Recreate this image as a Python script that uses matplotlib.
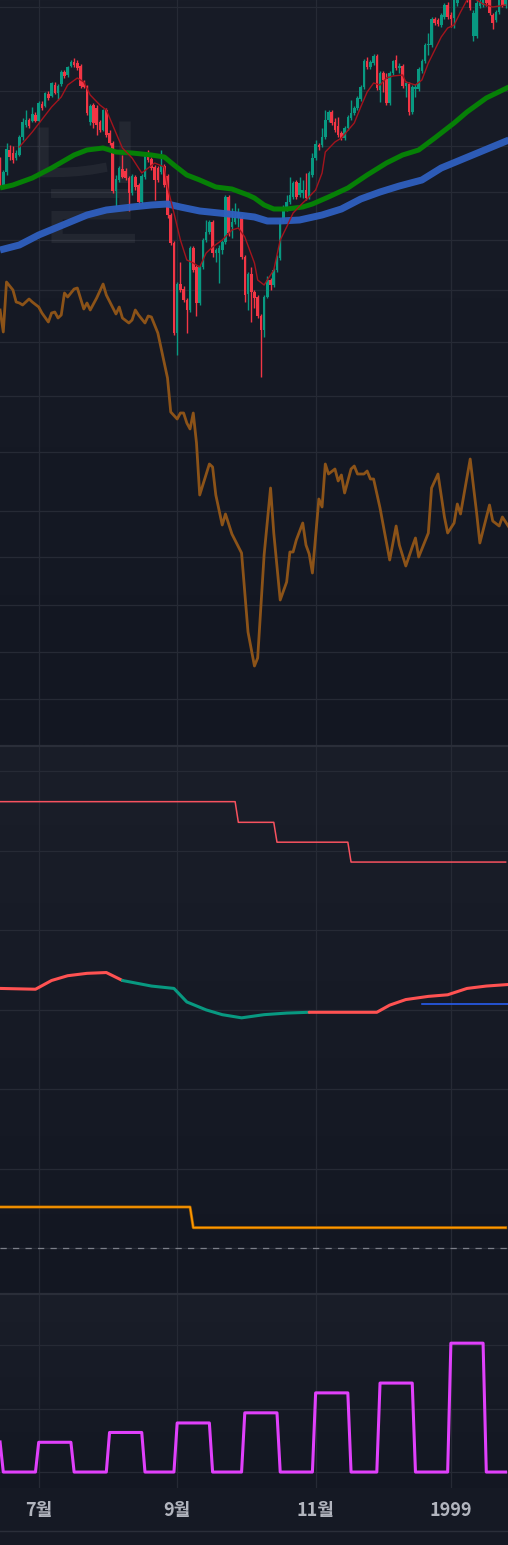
import numpy as np
import matplotlib
matplotlib.use("Agg")
import matplotlib.pyplot as plt
from matplotlib.colors import LinearSegmentedColormap
from matplotlib.lines import Line2D

plt.rcParams['font.family'] = ['Noto Sans CJK KR', 'DejaVu Sans']

# ---- daily bars, mid June 1998 .. late January 1999 (bar index 0..157) ----
opens = [1140, 1115, 1128, 1150, 1147, 1142, 1145, 1163, 1175, 1180,
         1179, 1185, 1179, 1196, 1194, 1206, 1204, 1215, 1207, 1216,
         1228, 1225, 1234, 1238, 1237, 1234, 1218, 1214, 1178, 1195,
         1192, 1178, 1170, 1190, 1167, 1157, 1109, 1120, 1131, 1129,
         1122, 1107, 1123, 1115, 1098, 1123, 1143, 1141, 1133, 1132,
         1128, 1134, 1124, 1085, 1057, 967, 1016, 1011, 1000, 990,
         1052, 1033, 997, 1033, 1060, 1068, 1078, 1047, 1047, 1050,
         1058, 1103, 1073, 1078, 1082, 1083, 1043, 1006, 1026, 1008,
         1003, 984, 970, 1003, 1020, 1015, 1030, 1042, 1080, 1091,
         1098, 1103, 1118, 1105, 1107, 1110, 1103, 1125, 1142, 1155,
         1155, 1163, 1180, 1188, 1178, 1174, 1167, 1162, 1172, 1182,
         1187, 1192, 1201, 1213, 1239, 1233, 1237, 1244, 1210, 1227,
         1221, 1197, 1227, 1240, 1232, 1234, 1214, 1216, 1188, 1211,
         1211, 1229, 1239, 1255, 1255, 1281, 1280, 1275, 1283, 1295,
         1285, 1282, 1297, 1305, 1310, 1308, 1302, 1264, 1264, 1294,
         1295, 1303, 1300, 1285, 1280, 1288, 1302, 1294]
highs = [1143, 1130, 1157, 1155, 1154, 1150, 1165, 1182, 1190, 1182,
         1193, 1188, 1199, 1199, 1208, 1209, 1218, 1218, 1216, 1230,
         1230, 1234, 1240, 1242, 1240, 1236, 1220, 1215, 1196, 1197,
         1195, 1180, 1191, 1192, 1170, 1159, 1125, 1134, 1145, 1132,
         1124, 1126, 1125, 1117, 1126, 1147, 1150, 1143, 1135, 1134,
         1150, 1136, 1126, 1087, 1059, 1018, 1038, 1014, 1002, 1054,
         1054, 1035, 1035, 1062, 1080, 1080, 1080, 1052, 1055, 1060,
         1105, 1105, 1092, 1097, 1092, 1085, 1045, 1028, 1033, 1010,
         1005, 986, 1005, 1024, 1022, 1032, 1045, 1082, 1095, 1105,
         1123, 1119, 1120, 1123, 1120, 1127, 1129, 1147, 1160, 1157,
         1172, 1190, 1190, 1190, 1182, 1183, 1169, 1174, 1185, 1200,
         1194, 1204, 1215, 1241, 1243, 1240, 1246, 1246, 1229, 1229,
         1227, 1229, 1240, 1245, 1237, 1236, 1219, 1218, 1215, 1216,
         1233, 1241, 1257, 1267, 1283, 1283, 1282, 1287, 1297, 1298,
         1288, 1305, 1308, 1318, 1315, 1314, 1306, 1290, 1300, 1303,
         1306, 1308, 1304, 1287, 1290, 1304, 1306, 1304]
lows = [1113, 1112, 1125, 1140, 1137, 1140, 1144, 1160, 1173, 1172,
        1178, 1178, 1178, 1190, 1193, 1200, 1203, 1206, 1200, 1214,
        1222, 1223, 1233, 1233, 1230, 1212, 1212, 1185, 1175, 1172,
        1165, 1168, 1169, 1163, 1155, 1107, 1093, 1118, 1122, 1120,
        1089, 1105, 1110, 1095, 1096, 1121, 1138, 1130, 1100, 1118,
        1126, 1113, 1082, 1055, 965, 945, 1008, 998, 967, 988,
        1028, 984, 995, 1031, 1058, 1066, 1043, 1038, 1017, 1046,
        1056, 1064, 1062, 1076, 1073, 1041, 998, 990, 978, 992,
        982, 923, 963, 1002, 1010, 1013, 1028, 1040, 1078, 1089,
        1096, 1101, 1101, 1103, 1102, 1100, 1101, 1123, 1140, 1150,
        1153, 1161, 1178, 1175, 1168, 1163, 1160, 1160, 1170, 1180,
        1185, 1190, 1199, 1211, 1231, 1231, 1235, 1210, 1198, 1208,
        1195, 1195, 1225, 1230, 1227, 1212, 1203, 1185, 1186, 1203,
        1209, 1227, 1237, 1245, 1253, 1275, 1274, 1273, 1281, 1281,
        1273, 1272, 1294, 1302, 1303, 1298, 1290, 1259, 1262, 1292,
        1293, 1294, 1285, 1271, 1278, 1286, 1293, 1292]
closes = [1115, 1128, 1151, 1143, 1140, 1147, 1163, 1178, 1180, 1174,
          1186, 1179, 1197, 1192, 1207, 1202, 1217, 1207, 1214, 1228,
          1224, 1233, 1238, 1235, 1232, 1214, 1213, 1187, 1194, 1177,
          1175, 1170, 1190, 1165, 1157, 1109, 1121, 1132, 1123, 1122,
          1107, 1124, 1113, 1098, 1124, 1144, 1140, 1132, 1120, 1120,
          1134, 1115, 1085, 1057, 967, 1016, 1010, 1000, 990, 1052,
          1030, 997, 1033, 1060, 1068, 1078, 1047, 1050, 1052, 1058,
          1103, 1067, 1078, 1083, 1088, 1043, 1005, 1026, 1008, 1002,
          984, 970, 1003, 1020, 1015, 1030, 1042, 1080, 1092, 1098,
          1105, 1117, 1103, 1117, 1110, 1102, 1127, 1142, 1156, 1153,
          1163, 1180, 1188, 1177, 1170, 1165, 1162, 1172, 1183, 1187,
          1192, 1202, 1213, 1239, 1233, 1238, 1244, 1212, 1227, 1220,
          1197, 1227, 1239, 1232, 1234, 1214, 1217, 1188, 1213, 1213,
          1231, 1239, 1255, 1256, 1281, 1277, 1276, 1285, 1295, 1283,
          1281, 1302, 1305, 1312, 1306, 1302, 1292, 1287, 1297, 1298,
          1302, 1297, 1287, 1277, 1288, 1300, 1295, 1301]

# moving averages (bar index, level)
fast_ma_bars = [6, 10, 16, 19, 21, 24, 26, 28, 31, 33, 36, 38, 41, 44, 46, 48, 51, 52, 54, 56,
                58, 60, 62, 64, 66, 69, 72, 74, 76, 79, 80, 82, 85, 87, 89, 91, 94, 95, 98, 100,
                101, 104, 106, 110, 112, 114, 116, 118, 120, 122, 125, 126, 129, 131, 133, 135,
                137, 139, 141, 143, 145, 147, 150, 153, 157]
fast_ma_vals = [1153, 1168, 1193, 1203, 1215, 1222, 1218, 1205, 1195, 1190, 1167, 1152, 1142, 1127,
                1132, 1137, 1133, 1113, 1087, 1060, 1040, 1037, 1033, 1047, 1053, 1060, 1070, 1072,
                1063, 1037, 1020, 1015, 1030, 1060, 1073, 1087, 1097, 1100, 1110, 1127, 1148, 1158,
                1162, 1177, 1193, 1208, 1217, 1215, 1222, 1224, 1225, 1218, 1215, 1220, 1237, 1250,
                1263, 1272, 1275, 1288, 1300, 1302, 1296, 1293, 1295]
mid_ma_bars = [0, 4, 10, 16, 23, 27, 32, 36, 41, 47, 51, 54, 58, 62, 67, 72, 77, 79, 82, 85,
               89, 94, 97, 102, 108, 114, 120, 125, 130, 135, 141, 145, 151, 158]
mid_ma_vals = [1112, 1115, 1122, 1132, 1145, 1150, 1152, 1148, 1147, 1145, 1143, 1135, 1125, 1120,
               1113, 1111, 1105, 1102, 1095, 1091, 1091, 1093, 1096, 1103, 1112, 1125, 1137, 1145,
               1150, 1162, 1177, 1188, 1202, 1213]
slow_ma_bars = [0, 6, 12, 21, 27, 33, 41, 47, 52, 56, 62, 68, 74, 79, 83, 87, 93, 100, 106, 112,
                118, 124, 131, 137, 143, 149, 158]
slow_ma_vals = [1050, 1055, 1065, 1077, 1085, 1090, 1093, 1095, 1096, 1093, 1089, 1087, 1085, 1083,
                1079, 1079, 1080, 1085, 1091, 1101, 1108, 1114, 1120, 1132, 1140, 1148, 1160]

# overlay oscillator (own scale) in the price pane
osc_bars = [0, 1, 2, 4, 5, 6, 7, 9, 10, 12, 13, 15, 16, 17, 18, 19, 20, 21, 23, 24, 26, 27, 28, 30,
            32, 33, 36, 37, 38, 40, 41, 42, 43, 45, 46, 47, 49, 51, 52, 53, 55, 56, 57, 58, 59, 60,
            61, 62, 65, 66, 67, 69, 70, 72, 75, 77, 79, 80, 82, 84, 85, 87, 89, 90, 91, 92, 94, 95,
            96, 97, 99, 100, 101, 102, 104, 105, 106, 107, 109, 110, 111, 113, 114, 115, 116, 118,
            121, 123, 124, 126, 128, 129, 130, 133, 134, 136, 138, 139, 141, 142, 143, 146, 148,
            149, 152, 153, 155, 156, 158]
osc_vals = [435, 413, 463, 455, 443, 442, 440, 446, 443, 438, 432, 423, 432, 433, 427, 430, 452, 448,
            456, 457, 436, 442, 435, 447, 461, 450, 431, 438, 427, 422, 425, 435, 430, 422, 429, 428,
            412, 382, 367, 333, 326, 332, 332, 322, 316, 332, 302, 250, 281, 278, 250, 220, 231, 211,
            192, 113, 79, 87, 190, 257, 212, 145, 163, 193, 193, 205, 222, 200, 191, 172, 246, 238,
            281, 271, 276, 264, 270, 252, 276, 279, 271, 271, 274, 266, 266, 237, 185, 219, 200, 179,
            198, 207, 188, 212, 257, 271, 228, 212, 222, 241, 231, 286, 232, 202, 240, 224, 219, 228,
            218]

# second pane
stop_levels = [56.2, 53.6, 51.1, 48.6]
stop_start_bars = [0, 74, 86, 109]
trend_bars = [0, 11, 16, 21, 27, 33, 38, 47, 54, 58, 64, 69, 75, 82, 89, 96, 117, 121, 126, 133,
              139, 145, 151, 158]
trend_vals = [32.7, 32.6, 33.7, 34.3, 34.6, 34.7, 33.7, 33.0, 32.7, 31.0, 30.0, 29.4, 29.0, 29.4,
              29.6, 29.7, 29.7, 30.6, 31.3, 31.7, 31.9, 32.7, 33.0, 33.2]
trend_turns = [38, 96]          # red -> teal -> red
ref_level, ref_from = 30.7, 131
band_levels = [5.2, 2.6]
band_start_bars = [0, 60]

# third pane: pulses (first bar, last bar, height)
pulse_first = [0, 12, 34, 55, 76, 98, 118, 140]
pulse_last = [0, 22, 44, 65, 86, 108, 128, 150]
pulse_height = [9.5, 9.4, 12.5, 15.5, 18.7, 25.0, 28.1, 40.7]

main_grid = [1292.7, 1208.7, 1154, 1107.7, 1060, 1010, 957.7, 904, 847.7, 788.7, 742.7, 694.7,
             647.7, 600.7]
tick_bars = [12, 55, 98, 140]
tick_labels = ['7월', '9월', '11월', '1999']

n = len(opens)
idx = np.arange(n)
xlim = (-0.02, 157.74)
grid_c = '#262a35'
teal, red = '#089981', '#f23645'

W, H = 508, 1545
fig = plt.figure(figsize=(W / 100, H / 100), dpi=100, facecolor='#151924')


def pane(top, bottom, ylim, c_top='#1a1e29', c_bot='#131722'):
    ax = fig.add_axes([0, 1 - bottom / H, 1, (bottom - top) / H])
    cmap = LinearSegmentedColormap.from_list('bg', [c_bot, c_top])
    ax.imshow(np.linspace(0, 1, 256).reshape(-1, 1), cmap=cmap, aspect='auto',
              extent=(0, 1, 0, 1), transform=ax.transAxes, origin='lower', zorder=-10)
    ax.set_xlim(xlim)
    ax.set_ylim(ylim)
    for s in ax.spines.values():
        s.set_visible(False)
    ax.set_yticks([])
    ax.set_xticks([])
    for b in tick_bars:
        ax.axvline(b, color=grid_c, lw=0.9, zorder=1)
    return ax


# ---- price pane ----
ax1 = pane(0, 745, (555, 1300), '#181c27', '#131722')
for g in main_grid:
    ax1.axhline(g, color=grid_c, lw=0.9, zorder=1)
ax1.text(0.045, 0.832, '닐', transform=ax1.transAxes, fontsize=98, color='white',
         alpha=0.055, ha='left', va='top', zorder=2)

o, h, l, c = map(np.array, (opens, highs, lows, closes))
cols = np.where(c >= o, teal, red)
ax1.vlines(idx, l, h, colors=cols, lw=1.0, zorder=3)
ax1.bar(idx, np.maximum(np.abs(c - o), 0.9), bottom=np.minimum(o, c), width=0.8,
        color=cols, linewidth=0, zorder=4)

ax1.plot(slow_ma_bars, slow_ma_vals, color='#2f5fbf', lw=5, alpha=0.95, zorder=5,
         solid_capstyle='butt')
ax1.plot(mid_ma_bars, mid_ma_vals, color='#068006', lw=3.6, zorder=6, solid_capstyle='butt')
ax1.plot(fast_ma_bars, fast_ma_vals, color='#a3141d', lw=1.0, zorder=7)

ax_osc = ax1.twinx()
ax_osc.set_ylim(0, 745)
ax_osc.set_yticks([])
for s in ax_osc.spines.values():
    s.set_visible(False)
ax_osc.plot(osc_bars, osc_vals, color='#8c5318', lw=2.0)
ax_osc.set_xlim(xlim)

# ---- second pane ----
ax2 = pane(746.5, 1293, (-5.62, 63.14))
for g in range(0, 70, 10):
    ax2.axhline(g, color=grid_c, lw=0.9, zorder=1)

stop = np.zeros(n)
for lev, s in zip(stop_levels, stop_start_bars):
    stop[s:] = lev
ax2.plot(idx, stop, color='#f7525f', lw=1.1, zorder=4)

tb = np.array(trend_bars)
tv = np.array(trend_vals)
k1, k2 = trend_bars.index(trend_turns[0]), trend_bars.index(trend_turns[1])
ax2.plot(tb[:k1 + 1], tv[:k1 + 1], color='#ff5252', lw=2.2, zorder=5, solid_capstyle='round')
ax2.plot(tb[k1:k2 + 1], tv[k1:k2 + 1], color=teal, lw=2.2, zorder=5, solid_capstyle='round')
ax2.plot(tb[k2:], tv[k2:], color='#ff5252', lw=2.2, zorder=5, solid_capstyle='round')
ax2.plot([ref_from, xlim[1]], [ref_level, ref_level], color='#2962ff', lw=1.1, zorder=4)

band = np.zeros(n)
for lev, s in zip(band_levels, band_start_bars):
    band[s:] = lev
ax2.plot(idx, band, color='#9a5a00', lw=2.2, zorder=4)
ax2.plot(idx, band, color='#ff9800', lw=1.2, zorder=5)
ax2.axhline(0, color='#7b7e88', lw=0.9, ls=(0, (5, 5)), zorder=3)

# ---- third pane ----
ax3 = pane(1294.5, 1488, (-5.04, 56.07))
for g in [0, 20, 40]:
    ax3.axhline(g, color=grid_c, lw=0.9, zorder=1)
pulses = np.zeros(n)
for a, b, hgt in zip(pulse_first, pulse_last, pulse_height):
    pulses[a:b + 1] = hgt
ax3.plot(idx, pulses, color='#e040fb', lw=2.2, zorder=5)

ax3.set_xticks(tick_bars)
ax3.set_xticklabels(tick_labels, fontweight='bold')
ax3.tick_params(axis='x', length=0, pad=9.5, labelsize=13, labelcolor='#b2b5be')

# pane separators and bottom border
for yy, lw in [(745.7, 1.6), (1293.6, 1.6), (1531, 1.0)]:
    fig.add_artist(Line2D([0, 1], [1 - yy / H] * 2, color='#2a2e39', lw=lw))

fig.savefig('out.png', dpi=100, facecolor=fig.get_facecolor())
